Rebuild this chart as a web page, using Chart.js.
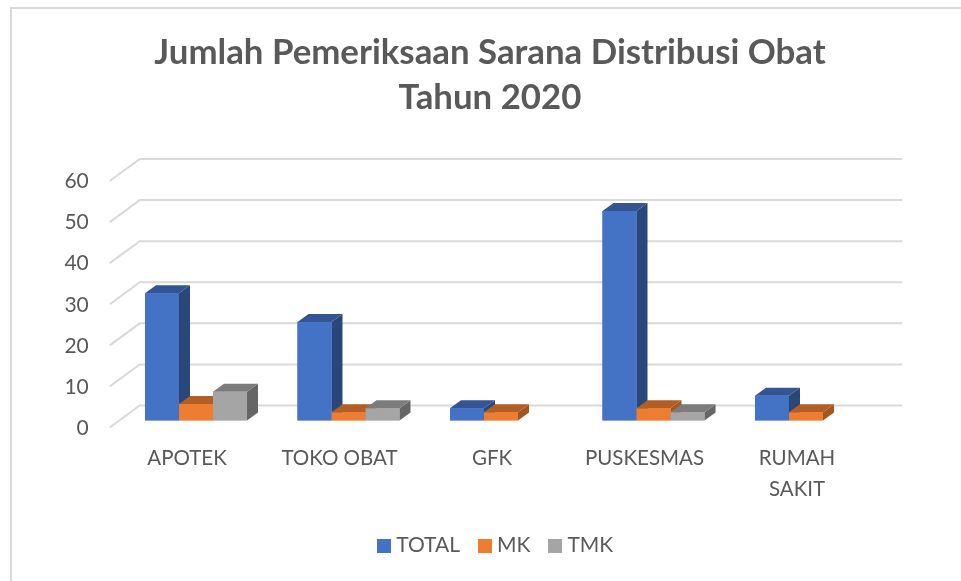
<!DOCTYPE html>
<html>
<head>
<meta charset="utf-8">
<style>
  html, body { margin: 0; padding: 0; background: #fff; }
  #wrap { position: relative; width: 961px; height: 581px; overflow: hidden; }
  #frame { position: absolute; left: 10px; top: 7px; width: 960px; height: 580px; border-left: 2px solid #d9d9d9; border-top: 2px solid #d9d9d9; box-sizing: border-box; }
  canvas { position: absolute; left: 0; top: 0; }
</style>
<script src="https://cdn.jsdelivr.net/npm/chart.js@4"></script>
</head>
<body>
<div id="wrap">
  <div id="frame"></div>
  <canvas id="chart" width="961" height="581"></canvas>
</div>
<script>
const titleLines = ['Jumlah Pemeriksaan Sarana Distribusi Obat', 'Tahun 2020'];
const categories = ['APOTEK', 'TOKO OBAT', 'GFK', 'PUSKESMAS', ['RUMAH', 'SAKIT']];
const total = [31, 24, 3, 51, 6];
const mk = [4, 2, 2, 3, 2];
const tmk = [7, 3, 0, 2, 0];

const frontColors = ['#4472C4', '#ED7D31', '#A5A5A5'];
const topColors = ['#335593', '#B25E24', '#7C7C7C'];
const sideColors = ['#2A4779', '#A3561F', '#666666'];
const textColor = '#595959';
const gridColor = '#D9D9D9';

// depth of the bars and of the floor, in pixels
const barDX = 11, barDY = 8;
const wallDX = 20, wallDY = 15;
const frontDX = 10, frontDY = 7;

// legend squares are images so the text can sit closer than fontSize / 2
function legendSquare(color) {
  const c = document.createElement('canvas');
  c.width = 14;
  c.height = 14;
  const g = c.getContext('2d');
  g.fillStyle = color;
  g.fillRect(0, 0, 14, 14);
  return c;
}

// walls of the fake 3D box, drawn from the real y scale
const wallGrid = {
  id: 'wallGrid',
  afterLayout(chart) {
    // the legend sits a bit right of the title in the original
    chart.legend.left += 7.5;
    chart.legend.right += 7.5;
  },
  beforeDatasetsDraw(chart) {
    const { ctx, chartArea, scales } = chart;
    ctx.save();
    ctx.strokeStyle = gridColor;
    ctx.lineWidth = 2;
    scales.y.ticks.forEach(t => {
      const y = scales.y.getPixelForValue(t.value);
      ctx.beginPath();
      ctx.moveTo(chartArea.left - frontDX, y + frontDY);
      ctx.lineTo(chartArea.left + wallDX, y - wallDY);
      ctx.lineTo(chartArea.right + wallDX, y - wallDY);
      ctx.stroke();
    });
    ctx.restore();
  }
};

// chart.js paints the last dataset first, 3D needs left to right,
// so side, top and front are painted again here in dataset order
const barFaces = {
  id: 'barFaces',
  afterDatasetsDraw(chart) {
    const { ctx } = chart;
    chart.data.datasets.forEach((ds, i) => {
      chart.getDatasetMeta(i).data.forEach((bar, n) => {
        if (!ds.data[n]) return;
        const p = bar.getProps(['x', 'y', 'base', 'width'], true);
        const l = p.x - p.width / 2, r = p.x + p.width / 2;
        ctx.fillStyle = sideColors[i];
        ctx.beginPath();
        ctx.moveTo(r, p.y);
        ctx.lineTo(r + barDX, p.y - barDY);
        ctx.lineTo(r + barDX, p.base - barDY);
        ctx.lineTo(r, p.base);
        ctx.closePath();
        ctx.fill();
        ctx.fillStyle = topColors[i];
        ctx.beginPath();
        ctx.moveTo(l, p.y);
        ctx.lineTo(l + barDX, p.y - barDY);
        ctx.lineTo(r + barDX, p.y - barDY);
        ctx.lineTo(r, p.y);
        ctx.closePath();
        ctx.fill();
        bar.draw(ctx);
      });
    });
  }
};

new Chart(document.getElementById('chart'), {
  type: 'bar',
  data: {
    labels: categories,
    datasets: [
      { label: 'TOTAL', data: total, backgroundColor: frontColors[0], pointStyle: legendSquare(frontColors[0]) },
      { label: 'MK', data: mk, backgroundColor: frontColors[1], pointStyle: legendSquare(frontColors[1]) },
      { label: 'TMK', data: tmk, backgroundColor: frontColors[2], pointStyle: legendSquare(frontColors[2]) }
    ]
  },
  plugins: [wallGrid, barFaces],
  options: {
    responsive: false,
    animation: false,
    layout: { padding: { left: 19, right: 0, top: 30.5, bottom: 15 } },
    datasets: { bar: { barPercentage: 1, categoryPercentage: 0.669 } },
    plugins: {
      tooltip: { enabled: false },
      title: {
        display: true,
        text: titleLines,
        color: textColor,
        font: { family: 'Lato', size: 34.8, weight: 'bold', lineHeight: 1.28 },
        padding: { top: 0, bottom: 54.4 }
      },
      legend: {
        position: 'bottom',
        labels: {
          color: textColor,
          font: { family: 'Lato', size: 21 },
          usePointStyle: true,
          pointStyleWidth: 4,
          boxHeight: 14,
          padding: 22.5
        }
      }
    },
    scales: {
      x: {
        grid: { display: false },
        border: { display: false },
        afterFit(scale) { scale.height = 92; },
        ticks: {
          color: textColor,
          maxRotation: 0,
          autoSkip: false,
          padding: 15,
          labelOffset: -9,
          font: { family: 'Lato', size: 20.5, lineHeight: 1.5 }
        }
      },
      y: {
        min: 0,
        max: 60,
        grid: { display: false },
        border: { display: false },
        afterFit(scale) { scale.width = 100.75; },
        ticks: {
          stepSize: 10,
          color: textColor,
          padding: 23,
          labelOffset: 7.5,
          font: { family: 'Lato', size: 21 }
        }
      },
      // empty axis, only keeps the plot clear of the right side
      spacer: {
        position: 'right',
        display: true,
        grid: { display: false },
        border: { display: false },
        ticks: { display: false },
        afterFit(scale) { scale.width = 78.75; }
      }
    }
  }
});
</script>
</body>
</html>
